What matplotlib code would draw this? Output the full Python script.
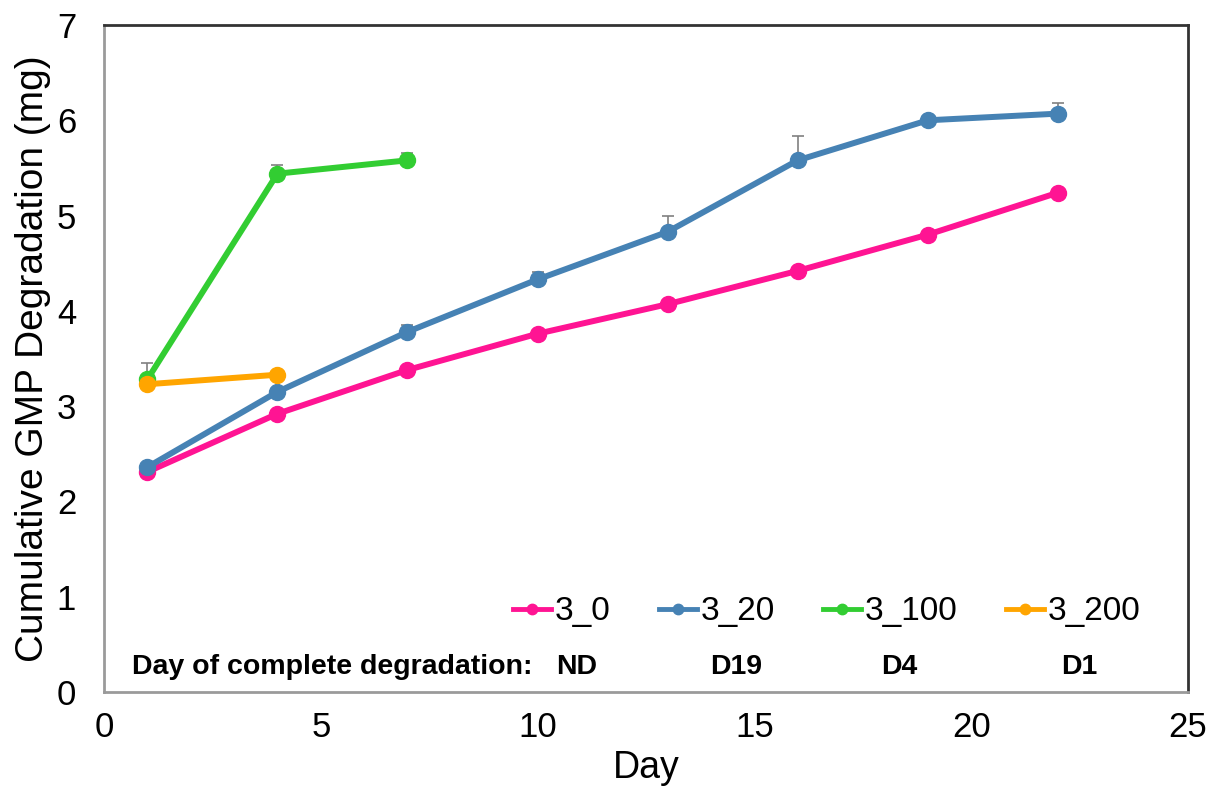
import matplotlib.pyplot as plt
import numpy as np

plt.rcParams['font.family'] = ['Liberation Sans', 'DejaVu Sans']

# data
days_0 = [1, 4, 7, 10, 13, 16, 19, 22]
vals_0 = [2.31, 2.92, 3.38, 3.76, 4.07, 4.42, 4.80, 5.24]
err_0 = [0, 0, 0, 0, 0, 0, 0, 0]

days_20 = [1, 4, 7, 10, 13, 16, 19, 22]
vals_20 = [2.36, 3.15, 3.78, 4.33, 4.83, 5.58, 6.00, 6.07]
err_20 = [0, 0, 0.07, 0.08, 0.17, 0.26, 0, 0.11]

days_100 = [1, 4, 7]
vals_100 = [3.28, 5.44, 5.58]
err_100 = [0.17, 0.09, 0.08]

days_200 = [1, 4]
vals_200 = [3.23, 3.33]
err_200 = [0, 0]

labels = ['3_0', '3_20', '3_100', '3_200']
colors = ['#ff1493', '#4682b4', '#32cd32', '#ffa500']
complete_day = ['ND', 'D19', 'D4', 'D1']

series = [(days_0, vals_0, err_0), (days_20, vals_20, err_20),
          (days_100, vals_100, err_100), (days_200, vals_200, err_200)]

fig = plt.figure(figsize=(12.29, 8.07), dpi=100)
ax = fig.add_axes([0.0846, 0.1425, 0.882, 0.8265])

for (d, v, e), lab, c in zip(series, labels, colors):
    e = np.array(e)
    ax.errorbar(d, v, yerr=[np.zeros_like(e), e], fmt='none', ecolor='#808080',
                elinewidth=1.2, capsize=4, capthick=1.2, zorder=1)
    ax.plot(d, v, '-o', color=c, lw=4.3, ms=11.5, label=lab, zorder=2)

ax.set_xlim(0, 25)
ax.set_ylim(0, 7)
ax.set_xticks([0, 5, 10, 15, 20, 25])
ax.set_yticks(range(8))
ax.tick_params(length=0, labelsize=25)
ax.tick_params(axis='x', pad=14)
ax.tick_params(axis='y', pad=20)
ax.set_xlabel('Day', fontsize=27, labelpad=4)
ax.set_ylabel('Cumulative GMP Degradation (mg)', fontsize=28, labelpad=4)

ax.spines['left'].set_color('#9a9a9a')
ax.spines['bottom'].set_color('#9a9a9a')
ax.spines['top'].set_color('#333333')
ax.spines['right'].set_color('#333333')
for s in ax.spines.values():
    s.set_linewidth(2)

leg = ax.legend(loc='center right', bbox_to_anchor=(0.956, 0.12), ncol=4,
                frameon=False, fontsize=24, handlelength=1.15, handletextpad=0.1,
                columnspacing=1.45, borderaxespad=0, borderpad=0, markerscale=0.65)
for h in leg.legend_handles:
    h.set_linewidth(3.5)

ax.text(0.64, 0.26, 'Day of complete degradation:', fontsize=20.5, fontweight='bold',
        ha='left', va='center')
for xpos, t in zip([10.9, 14.57, 18.34, 22.5], complete_day):
    ax.text(xpos, 0.26, t, fontsize=20.5, fontweight='bold', ha='center', va='center')

fig.savefig('out.png', dpi=100)
